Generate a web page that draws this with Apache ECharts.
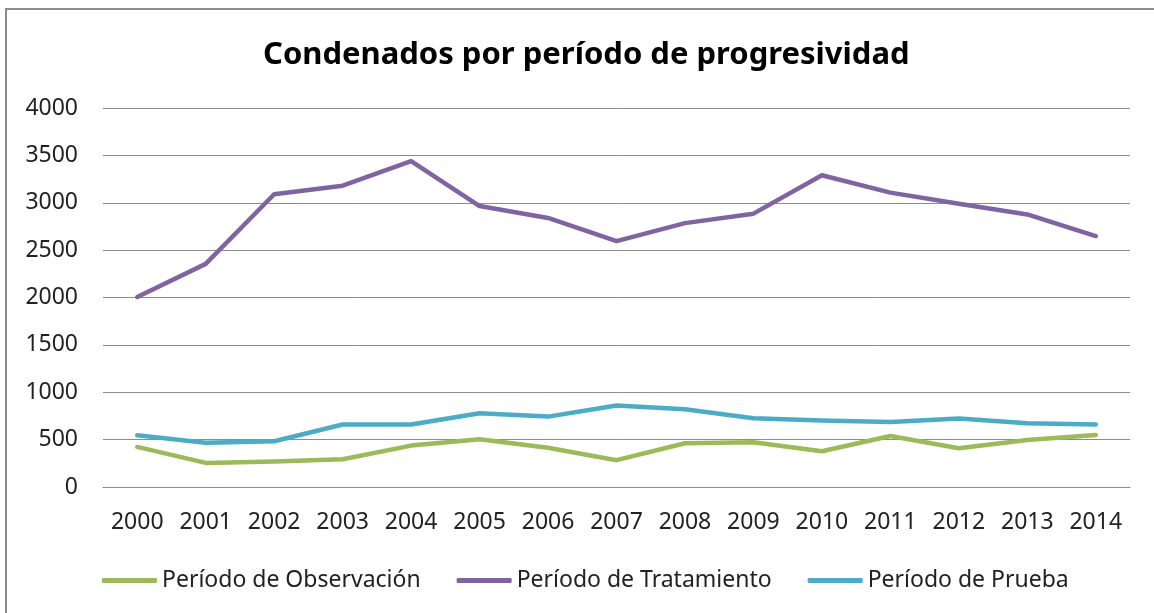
<!DOCTYPE html>
<html>
<head>
<meta charset="utf-8">
<script src="https://cdn.jsdelivr.net/npm/echarts@6/dist/echarts.min.js"></script>
<style>
  html, body { margin: 0; padding: 0; background: #fff; overflow: hidden; }
  #chart { position: absolute; left: 0; top: 0; width: 1154px; height: 613px; }
  #frame { position: absolute; left: 5px; top: 8px; width: 1200px; height: 700px;
           border-left: 2px solid #8c8c8c; border-top: 2px solid #8c8c8c; pointer-events: none; }
</style>
</head>
<body>
<div id="chart"></div>
<div id="frame"></div>
<script>
const years = ['2000', '2001', '2002', '2003', '2004', '2005', '2006', '2007',
  '2008', '2009', '2010', '2011', '2012', '2013', '2014']
const observacion = [423, 254, 268, 293, 437, 504, 415, 283, 462, 472, 377, 539, 409, 497, 550]
const tratamiento = [2005, 2355, 3090, 3180, 3440, 2965, 2840, 2595, 2785, 2885, 3290, 3107, 2990, 2877, 2648]
const prueba = [546, 468, 483, 659, 659, 779, 743, 860, 821, 726, 701, 687, 722, 673, 659]
const seriesNames = ['Período de Observación', 'Período de Tratamiento', 'Período de Prueba']
const colors = ['#9BBB59', '#8064A2', '#4BACC6']

const font = '"Noto Sans", "Open Sans", sans-serif'
const chart = echarts.init(document.getElementById('chart'))

const makeLine = (name, data, color) => ({
  name: name,
  type: 'line',
  data: data,
  symbol: 'none',
  lineStyle: { color: color, width: 4.5, cap: 'round', join: 'round' },
  itemStyle: { color: color },
  animation: false
})

chart.setOption({
  backgroundColor: '#fff',
  title: {
    text: 'Condenados por período de progresividad',
    left: 258,
    top: 35,
    textStyle: { fontFamily: font, fontSize: 31, fontWeight: 'bold', color: '#000' }
  },
  legend: {
    left: 97,
    top: 564,
    itemWidth: 55,
    itemHeight: 5,
    itemGap: 36,
    icon: 'roundRect',
    textStyle: { fontFamily: font, fontSize: 23, color: '#222' },
    data: seriesNames
  },
  grid: { left: 103, right: 24, top: 108, bottom: 126 },
  xAxis: {
    type: 'category',
    data: years,
    boundaryGap: true,
    axisLine: { lineStyle: { color: '#8c8c8c', width: 1 } },
    axisTick: { show: false },
    axisLabel: { fontFamily: font, fontSize: 23, color: '#222', margin: 24, interval: 0 }
  },
  yAxis: {
    type: 'value',
    min: 0,
    max: 4000,
    interval: 500,
    axisLine: { show: false },
    axisTick: { show: false },
    axisLabel: { fontFamily: font, fontSize: 23, color: '#222', margin: 25, formatter: v => String(v) },
    splitLine: { lineStyle: { color: '#8c8c8c', width: 1 } }
  },
  series: [
    makeLine(seriesNames[0], observacion, colors[0]),
    makeLine(seriesNames[1], tratamiento, colors[1]),
    makeLine(seriesNames[2], prueba, colors[2])
  ]
})
</script>
</body>
</html>
